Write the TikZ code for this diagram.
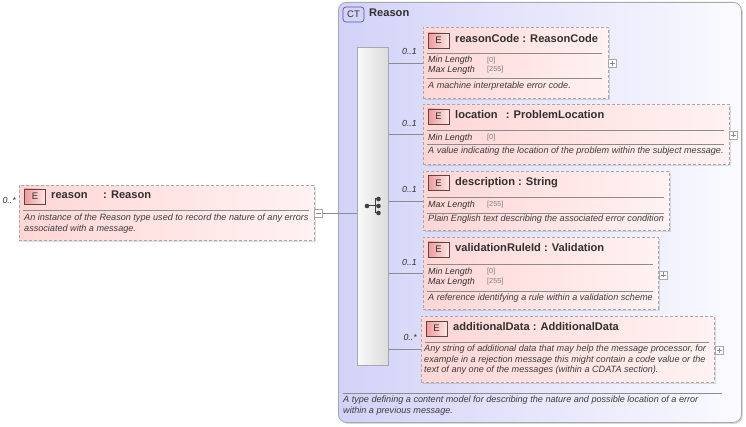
\documentclass[tikz,border=0pt]{standalone}
\usepackage{fontspec}
\setmainfont{Liberation Sans}
\usetikzlibrary{shadows}
\definecolor{elL}{HTML}{FFD6D6}
\definecolor{elR}{HTML}{FFF2F2}
\definecolor{boxgray}{HTML}{A8A8A8}
\definecolor{linegray}{HTML}{8C8C8C}
\definecolor{txt}{HTML}{303030}
\definecolor{dtxt}{HTML}{3C3C3C}
\definecolor{ctL}{HTML}{D2D2F8}
\definecolor{ctR}{HTML}{FAFAFF}
\definecolor{badgeL}{HTML}{EE9A9A}
\definecolor{badgeR}{HTML}{FDE6E6}
\definecolor{ctbadge}{HTML}{D4D4F4}
\begin{document}
\begin{tikzpicture}[x=1pt,y=-1pt,
  elem/.style={draw=boxgray, dash pattern=on 3pt off 2pt, line width=0.8pt,
    left color=elL, right color=elR, anchor=north west, inner sep=0pt,
    drop shadow={shadow xshift=2pt, shadow yshift=-2pt, fill=black, opacity=0.12}},
  ttl/.style={font=\fontsize{11.1}{13}\selectfont\bfseries, text=txt, anchor=west,
    inner sep=0pt, text height=8pt, text depth=2.2pt},
  prop/.style={font=\fontsize{8.9}{10}\selectfont\itshape, text=txt, anchor=west,
    inner sep=0pt, text height=6.4pt, text depth=1.8pt},
  val/.style={font=\fontsize{7.3}{8}\selectfont, text=gray, anchor=west,
    inner sep=0pt, text height=5.3pt, text depth=1.5pt},
  desc/.style={font=\fontsize{9.1}{10}\selectfont\itshape, text=dtxt, anchor=west,
    inner sep=0pt, text height=6.6pt, text depth=1.9pt},
  card/.style={font=\fontsize{8.8}{10}\selectfont\itshape, text=txt, anchor=east,
    inner sep=0pt, text height=6.3pt, text depth=1.8pt},
  ebadge/.style={draw=linegray!80!red!60!black, line width=0.6pt, left color=badgeL, right color=badgeR,
    minimum width=21pt, minimum height=15pt, inner sep=0pt,
    font=\fontsize{9.5}{10}\selectfont, text=txt},
  conn/.style={draw=linegray, line width=0.7pt},
  sep/.style={draw=linegray, line width=0.6pt},
  pm/.style={draw=boxgray, fill=white, line width=0.6pt, minimum width=8pt,
    minimum height=8pt, inner sep=0pt}
]
\useasboundingbox (0,0) rectangle (746,427);

% complex type box
\node[draw=boxgray, line width=0.8pt, rounded corners=8pt, left color=ctL, right color=ctR,
  minimum width=403pt, minimum height=420pt, anchor=north west, inner sep=0pt,
  drop shadow={shadow xshift=1.5pt, shadow yshift=-1.5pt, fill=black, opacity=0.15}]
  (ct) at (338,2) {};
\node[draw=linegray!60!blue, line width=0.7pt, rounded corners=3pt, fill=ctbadge,
  minimum width=21pt, minimum height=15pt, inner sep=0pt,
  font=\fontsize{9.5}{10}\selectfont, text=txt] (ctb) at (353.5,14.5) {CT};
\node[ttl] (ctt) at (369,14) {Reason};
\draw[sep] (343,393) coordinate (ctl1) -- (722,393) coordinate (ctl2);
\node[desc] (ctd1) at (343,400) {A type defining a content model for describing the nature and possible location of a error};
\node[desc] (ctd2) at (343,411) {within a previous message.};

% sequence compositor
\node[draw=boxgray, line width=0.7pt, left color=white!96!gray, right color=gray!28,
  minimum width=31pt, minimum height=318pt, anchor=north west, inner sep=0pt] (seq) at (357,47) {};
\fill[black!75] (367,206) circle (2.3pt);
\draw[black!75, line width=1pt] (367,206) -- (375,206) (375,199) -- (375,213)
  (375,199) -- (378,199) (375,206) -- (378,206) (375,213) -- (378,213);
\fill[black!75] (378.5,199) circle (2.3pt) (378.5,206) circle (2.3pt) (378.5,213) circle (2.3pt);

% reason element
\node[elem, minimum width=295pt, minimum height=55pt] (re) at (19,185) {};
\node[ebadge] (reb) at (35,196.5) {E};
\node[ttl] (ret) at (51,196) {reason};
\node[ttl] (ret2) at (103,196) {: Reason};
\draw[sep] (23,210) -- (309,210);
\node[desc] (red1) at (24,218) {An instance of the Reason type used to record the nature of any errors};
\node[desc] (red2) at (24,229) {associated with a message.};
\node[card] (rec) at (16,201) {0..*};
\node[pm] (rem) at (318.5,213) {};
\draw[linegray, line width=0.6pt] (316,213) -- (321,213);
\draw[conn] (rem.east) -- (seq.west |- rem.east);

% reasonCode
\node[elem, minimum width=185pt, minimum height=71pt] (rc) at (423,27) {};
\node[ebadge] (rcb) at (438.5,40.5) {E};
\node[ttl] (rct) at (455,40) {reasonCode : ReasonCode};
\draw[sep] (427,53) -- (602,53);
\node[prop] (rcp1) at (428,60.5) {Min Length};
\node[val] (rcv1) at (487,60.5) {[0]};
\node[prop] (rcp2) at (428,70) {Max Length};
\node[val] (rcv2) at (487,70) {[255]};
\draw[sep] (427,78) -- (602,78);
\node[desc] (rcd) at (428,86) {A machine interpretable error code.};
\node[pm] (rcx) at (612.5,63.5) {};
\draw[linegray, line width=0.6pt] (610,63.5) -- (615,63.5) (612.5,61) -- (612.5,66);
\draw[conn] (seq.east |- rc.west) -- (rc.west);
\node[card] (rcc) at (417,52.5) {0..1};

% location
\node[elem, minimum width=306pt, minimum height=60pt] (lo) at (423,104) {};
\node[ebadge] (lob) at (438.5,116.5) {E};
\node[ttl] (lot) at (455,116) {location\hspace{5pt} : ProblemLocation};
\draw[sep] (427,130) -- (724,130);
\node[prop] (lop1) at (428,138) {Min Length};
\node[val] (lov1) at (487,138) {[0]};
\draw[sep] (427,144) -- (724,144);
\node[desc] (lod) at (428,151.5) {A value indicating the location of the problem within the subject message.};
\node[pm] (lox) at (733.5,135) {};
\draw[linegray, line width=0.6pt] (731,135) -- (736,135) (733.5,132.5) -- (733.5,137.5);
\draw[conn] (seq.east |- lo.west) -- (lo.west);
\node[card] (loc) at (417,124) {0..1};

% description
\node[elem, minimum width=246pt, minimum height=59pt] (de) at (423,171) {};
\node[ebadge] (deb) at (438.5,183) {E};
\node[ttl] (det) at (455,182.5) {description : String};
\draw[sep] (427,197) -- (664,197);
\node[prop] (dep1) at (428,205) {Max Length};
\node[val] (dev1) at (487,205) {[255]};
\draw[sep] (427,213) -- (664,213);
\node[desc] (ded) at (428,219.5) {Plain English text describing the associated error condition};
\draw[conn] (seq.east |- de.west) -- (de.west);
\node[card] (dec) at (417,190) {0..1};

% validationRuleId
\node[elem, minimum width=235pt, minimum height=72pt] (va) at (423,237) {};
\node[ebadge] (vab) at (438.5,249.5) {E};
\node[ttl] (vat) at (455,249) {validationRuleId : Validation};
\draw[sep] (427,264) -- (653,264);
\node[prop] (vap1) at (428,272) {Min Length};
\node[val] (vav1) at (487,272) {[0]};
\node[prop] (vap2) at (428,282) {Max Length};
\node[val] (vav2) at (487,282) {[255]};
\draw[sep] (427,291) -- (653,291);
\node[desc] (vad) at (428,298.5) {A reference identifying a rule within a validation scheme};
\node[pm] (vax) at (663,275) {};
\draw[linegray, line width=0.6pt] (660.5,275) -- (665.5,275) (663,272.5) -- (663,277.5);
\draw[conn] (seq.east |- va.west) -- (va.west);
\node[card] (vac) at (417,263) {0..1};

% additionalData
\node[elem, minimum width=293pt, minimum height=66pt] (ad) at (421,316) {};
\node[ebadge] (adb) at (436.5,328.5) {E};
\node[ttl] (adt) at (453,328) {additionalData : AdditionalData};
\draw[sep] (425,342) -- (709,342);
\node[desc] (add1) at (424,349.5) {Any string of additional data that may help the message processor, for};
\node[desc] (add2) at (424,360) {example in a rejection message this might contain a code value or the};
\node[desc] (add3) at (424,370.5) {text of any one of the messages (within a CDATA section).};
\node[pm] (adx) at (719,350.5) {};
\draw[linegray, line width=0.6pt] (716.5,350.5) -- (721.5,350.5) (719,348) -- (719,353);
\draw[conn] (seq.east |- ad.west) -- (ad.west);
\node[card] (adc) at (417,338) {0..*};
\end{tikzpicture}
\end{document}
